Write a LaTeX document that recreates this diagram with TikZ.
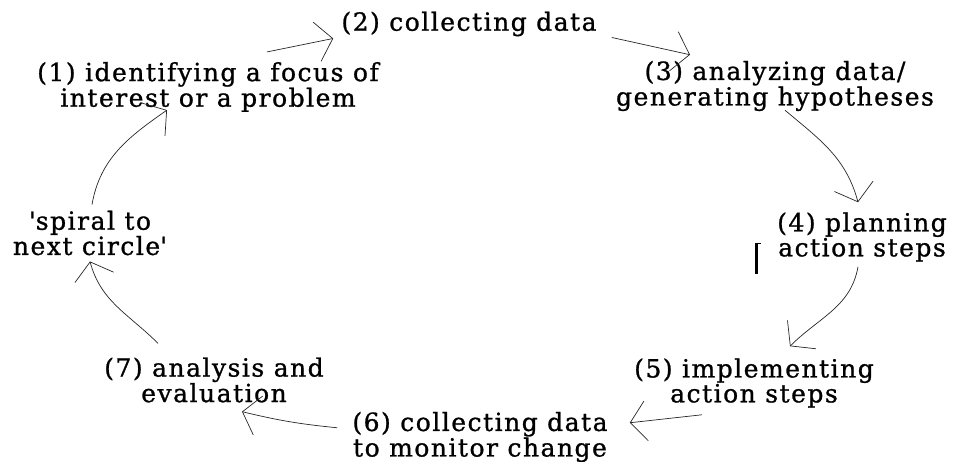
\documentclass[tikz,border=0pt]{standalone}
\usepackage{fontspec}
\setmainfont[LetterSpace=6,FakeBold=1]{DejaVu Serif}
\usepackage{tikz}
\usetikzlibrary{arrows.meta}

\begin{document}
\begin{tikzpicture}[
  x=1pt, y=-1pt,
  stage/.style={align=center, inner sep=0pt, font=\fontsize{25}{21}\selectfont},
  arrow/.style={-{Straight Barb[length=16pt,width=40pt]}, line width=0.7pt, draw=black!85}
]
  \useasboundingbox (0,0) rectangle (955,462);
  \node[stage] (identify) at (208,87) {(1) identifying a focus of\\interest or a problem};
  \node[stage] (collect) at (469,24) {(2) collecting data};
  \node[stage] (analyze) at (775,86) {(3) analyzing data/\\generating hypotheses};
  \node[stage] (plan) at (862,237) {(4) planning\\action steps};
  \node[stage] (implement) at (754,383) {(5) implementing\\action steps};
  \node[stage] (monitor) at (480,437) {(6) collecting data\\to monitor change};
  \node[stage] (evaluate) at (214,380) {(7) analysis and\\evaluation};
  \node[stage] (spiral) at (90,233) {\textquotesingle spiral to\\next circle\textquotesingle};

  \draw[arrow] ([xshift=2pt,yshift=6pt]spiral.north) to[out=80,in=215] ([xshift=-41pt,yshift=2pt]identify.south);
  \draw[arrow] ([xshift=59pt,yshift=10pt]identify.north) -- ([xshift=-8pt,yshift=-2pt]collect.south west);
  \draw[arrow] ([xshift=15pt,yshift=-1pt]collect.south east) -- ([xshift=-85pt,yshift=6pt]analyze.north);
  \draw[arrow] ([xshift=10pt,yshift=1pt]analyze.south) to[out=-40,in=105] ([xshift=-4pt,yshift=10pt]plan.north);
  \draw[arrow] ([xshift=-4pt,yshift=-5pt]plan.south) to[out=-100,in=45] ([xshift=36pt,yshift=12pt]implement.north);
  \draw[arrow] ([xshift=-52pt,yshift=-7pt]implement.south) -- ([xshift=22pt,yshift=-11pt]monitor.north east);
  \draw[arrow] ([xshift=-15pt,yshift=-16pt]monitor.north west) to[bend left=4] ([xshift=28pt,yshift=-9pt]evaluate.south);
  \draw[arrow] ([xshift=-56pt,yshift=14pt]evaluate.north) to[out=135,in=-75] ([yshift=-6pt]spiral.south);

  \draw[line width=3pt] (756.5,243) -- (756.5,274);
  \draw[line width=1.2pt] (755,243.5) -- (761,243.5);
\end{tikzpicture}
\end{document}
